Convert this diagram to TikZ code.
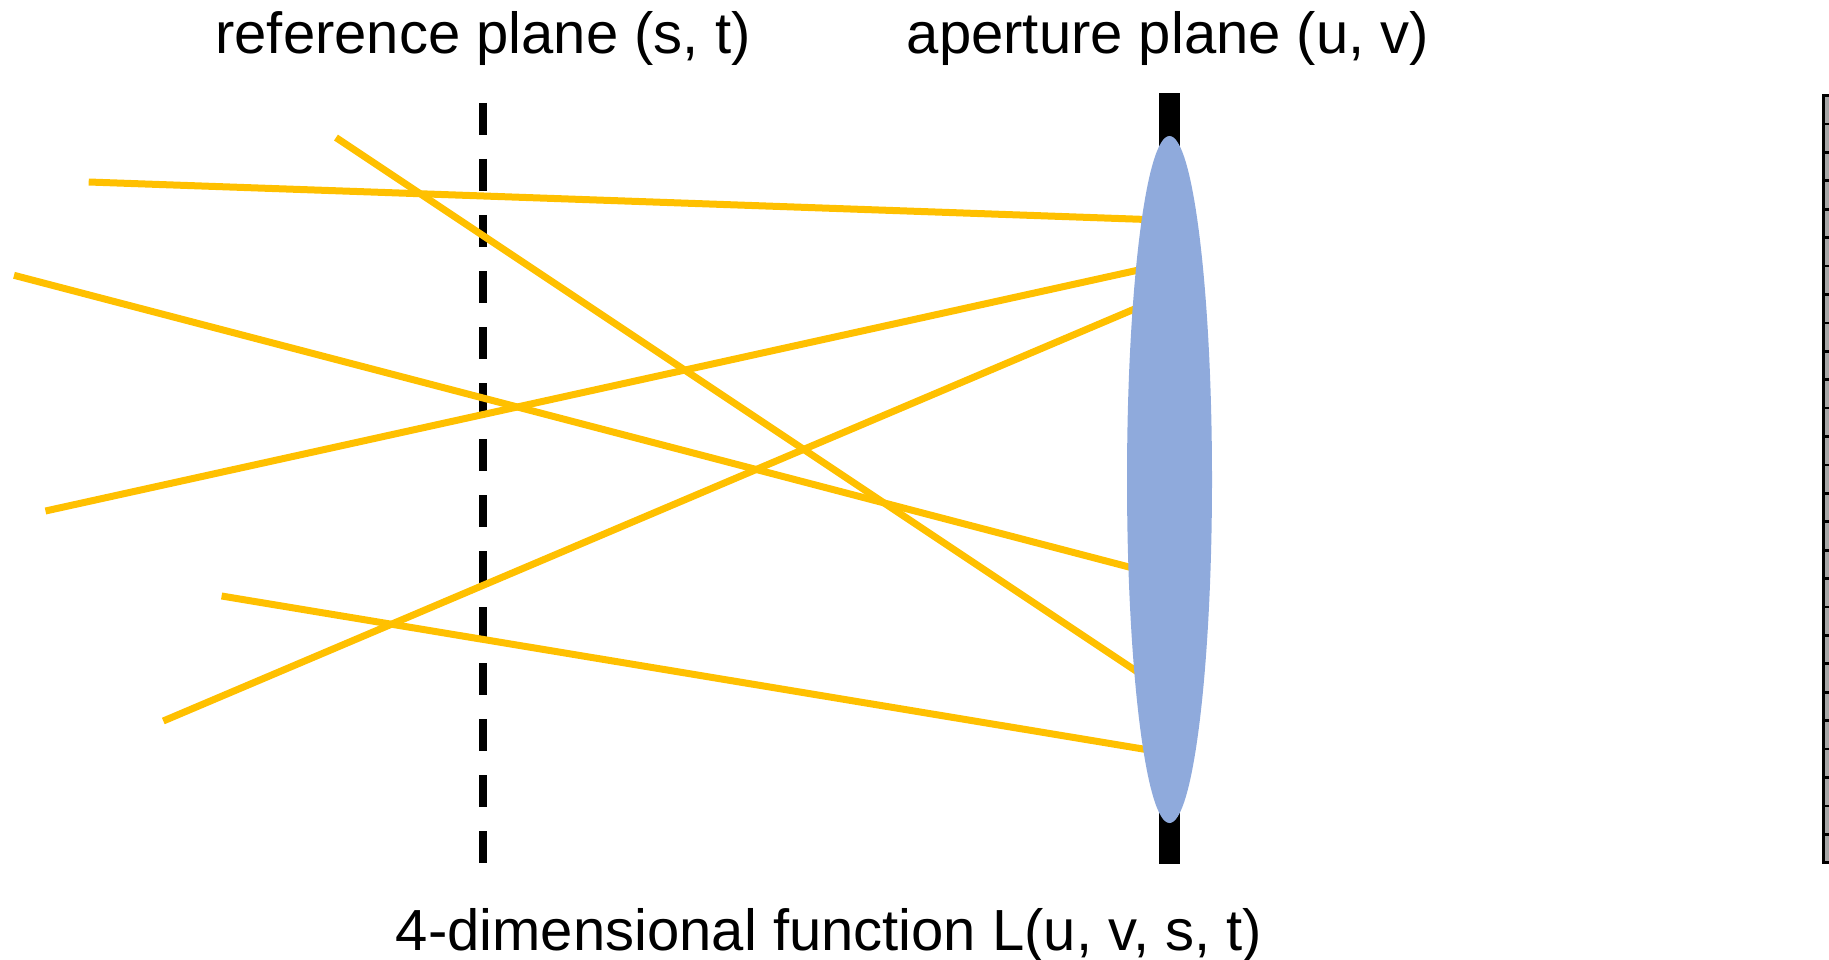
\documentclass[tikz,border=0pt]{standalone}
\usepackage{fontspec}
\setmainfont{Liberation Sans}
\usetikzlibrary{calc,shapes.geometric}
\definecolor{rayyellow}{HTML}{FFC000}
\definecolor{lensblue}{HTML}{8FAADC}
\definecolor{sensorgray}{HTML}{A6A6A6}
\tikzset{
  ray/.style={draw=rayyellow, line width=7pt},
  label/.style={font=\fontsize{58}{60}\selectfont, anchor=base, inner sep=0pt},
  refplane/.style={draw=black, line width=8pt, dash pattern=on 32pt off 24pt},
}
\begin{document}
\begin{tikzpicture}[x=1pt,y=-1pt]
\useasboundingbox (0,0) rectangle (1829,960);
% labels
\node[label] (lref) at (483,54) {reference plane (s, t)};
\node[label] (lap) at (1168,54) {aperture plane (u, v)};
\node[label] (lfun) at (829,950) {4-dimensional function L(u, v, s, t)};
% reference plane
\coordinate (rpt) at (483,103);
\coordinate (rpb) at (483,863);
\draw[refplane] (rpt) -- (rpb);
% aperture bar
\fill[black] (1158.7,93.3) rectangle (1180.3,864);
% rays
\coordinate (a1) at (88.7,182);   \coordinate (b1) at (1141,219.3);
\coordinate (a2) at (336,137.6);  \coordinate (b2) at (1134,669.6);
\coordinate (a3) at (14,275.3);   \coordinate (b3) at (1129,567);
\coordinate (a4) at (45.5,511);   \coordinate (b4) at (1136,270.6);
\coordinate (a5) at (163.3,721);  \coordinate (b5) at (1131.5,310.3);
\coordinate (a6) at (221.6,596);  \coordinate (b6) at (1143,749);
\foreach \i in {1,...,6}{
  \draw[ray] (a\i) -- ($(a\i)!1.02!(b\i)$);
}
% lens
\node[ellipse, fill=lensblue, minimum width=85pt, minimum height=687pt, inner sep=0pt] (lens) at (1169.5,479.5) {};
% sensor
\draw[fill=sensorgray, line width=2.7pt] (1823.7,95.6) rectangle (1840,862.6);
\foreach \k in {1,...,26}{
  \draw[line width=2.7pt] (1823.7,{95.6+\k*28.41}) -- (1840,{95.6+\k*28.41});
}
\end{tikzpicture}
\end{document}
